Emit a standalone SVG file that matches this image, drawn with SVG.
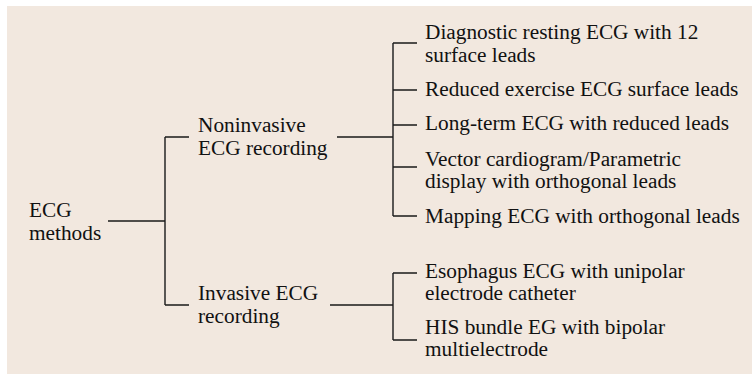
<svg xmlns="http://www.w3.org/2000/svg" width="752" height="374" viewBox="0 0 752 374">
<style>
.t text{font-size:21.3px;fill:#111}
.c{stroke:#1a1a1a;stroke-width:1.4;fill:none}
</style>
<rect x="7" y="6" width="745" height="368" fill="#f2e8df"/>
<g id="connectors" class="c">
<path d="M108,221H165M165,137V305M165,137H189M165,305H189"/>
<path d="M337,137H393M393,43V216M393,43H417M393,90H417M393,125H417M393,167H417M393,216H417"/>
<path d="M330,305H393M393,273V340M393,273H417M393,340H417"/>
</g>
<g class="t" font-family="'Liberation Serif', 'DejaVu Serif', serif">
<g id="root"><text x="29" y="217">ECG</text><text x="29" y="239.5">methods</text></g>
<g id="noninvasive"><text x="198" y="132">Noninvasive</text><text x="198" y="154.5">ECG recording</text></g>
<g id="invasive"><text x="198" y="300">Invasive ECG</text><text x="198" y="322.5">recording</text></g>
<g id="diagnostic"><text x="425" y="39">Diagnostic resting ECG with 12</text><text x="425" y="61.5">surface leads</text></g>
<g id="reduced"><text x="425" y="96">Reduced exercise ECG surface leads</text></g>
<g id="longterm"><text x="425" y="130">Long-term ECG with reduced leads</text></g>
<g id="vector"><text x="425" y="166">Vector cardiogram/Parametric</text><text x="425" y="188">display with orthogonal leads</text></g>
<g id="mapping"><text x="425" y="222.5">Mapping ECG with orthogonal leads</text></g>
<g id="esophagus"><text x="425" y="278">Esophagus ECG with unipolar</text><text x="425" y="300">electrode catheter</text></g>
<g id="his"><text x="425" y="334">HIS bundle EG with bipolar</text><text x="425" y="356">multielectrode</text></g>
</g>
</svg>
